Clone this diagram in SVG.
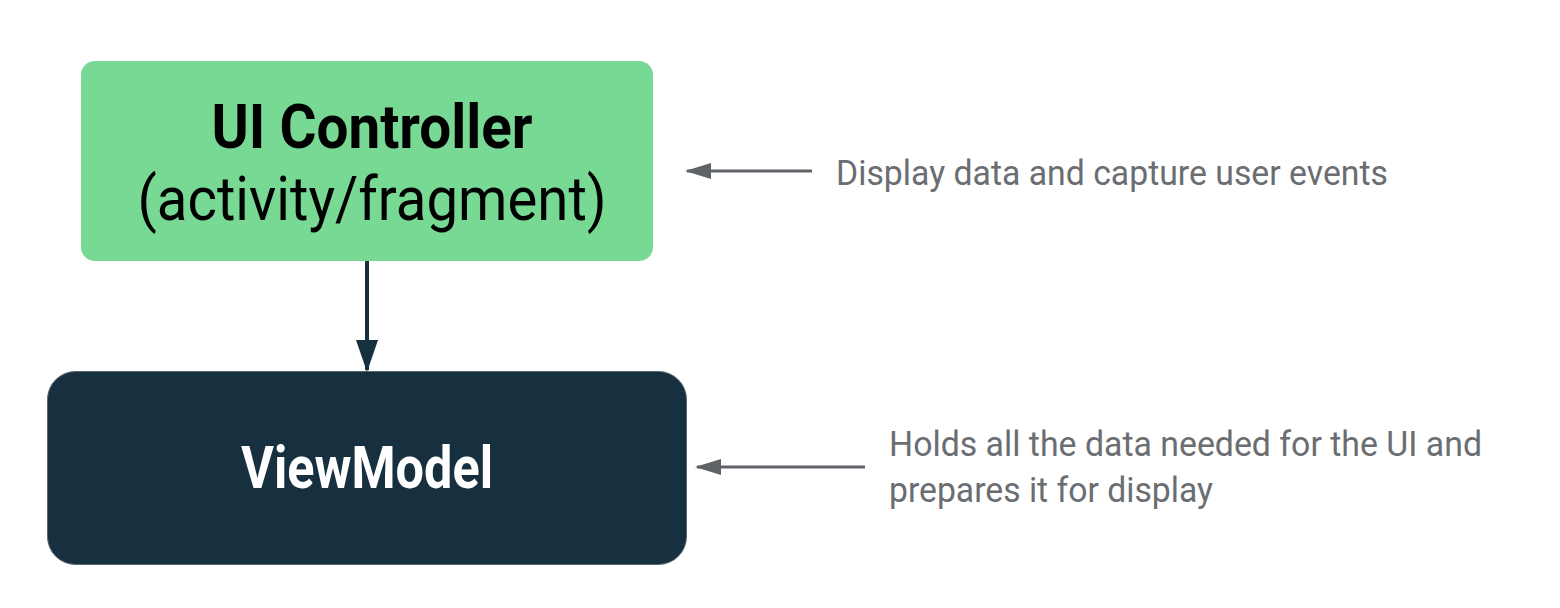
<svg xmlns="http://www.w3.org/2000/svg" width="1560" height="608" viewBox="0 0 1560 608">
  <style>
    .title { font-family: Roboto, "Liberation Sans", sans-serif; font-weight: 700; }
    .sub { font-family: Roboto, "Liberation Sans", sans-serif; font-weight: 400; }
    .note { font-family: Roboto, "Liberation Sans", sans-serif; font-size: 35px; fill: #6a6d71; }
  </style>
  <defs>
    <marker id="headDark" viewBox="0 0 32 22" refX="30" refY="11" markerWidth="32" markerHeight="22" markerUnits="userSpaceOnUse" orient="auto">
      <path d="M0,0 L32,11 L0,22 Z" fill="#17303f"/>
    </marker>
    <marker id="headGrey" viewBox="0 0 26 16" refX="24" refY="8" markerWidth="26" markerHeight="16" markerUnits="userSpaceOnUse" orient="auto">
      <path d="M0,0 L26,8 L0,16 Z" fill="#5f6368"/>
    </marker>
  </defs>
  <rect width="1560" height="608" fill="#ffffff"/>

  <g id="ui-controller">
    <rect x="81" y="61" width="572" height="200" rx="14" fill="#77d993"/>
    <text class="title" x="372" y="148" font-size="62" text-anchor="middle" textLength="321" lengthAdjust="spacingAndGlyphs" fill="#000">UI Controller</text>
    <text class="sub" x="372" y="220" font-size="62" text-anchor="middle" textLength="469" lengthAdjust="spacingAndGlyphs" fill="#000">(activity/fragment)</text>
  </g>

  <g id="viewmodel">
    <rect x="47.5" y="371.5" width="639" height="193" rx="28" fill="#17303f" stroke="#5a6670" stroke-width="1"/>
    <text class="title" x="367" y="488" font-size="59" text-anchor="middle" textLength="252" lengthAdjust="spacingAndGlyphs" fill="#ffffff">ViewModel</text>
  </g>

  <g id="note-ui">
    <text class="note" x="836" y="185" textLength="552" lengthAdjust="spacingAndGlyphs">Display data and capture user events</text>
  </g>

  <g id="note-viewmodel">
    <text class="note" x="889" y="456" textLength="593" lengthAdjust="spacingAndGlyphs">Holds all the data needed for the UI and</text>
    <text class="note" x="889" y="502" textLength="324" lengthAdjust="spacingAndGlyphs">prepares it for display</text>
  </g>

  <g id="connectors" fill="none">
    <line x1="367" y1="261" x2="367" y2="370" stroke="#17303f" stroke-width="4" marker-end="url(#headDark)"/>
    <line x1="812" y1="171" x2="687" y2="171" stroke="#5f6368" stroke-width="3" marker-end="url(#headGrey)"/>
    <line x1="865" y1="467" x2="697" y2="467" stroke="#5f6368" stroke-width="3" marker-end="url(#headGrey)"/>
  </g>
</svg>
